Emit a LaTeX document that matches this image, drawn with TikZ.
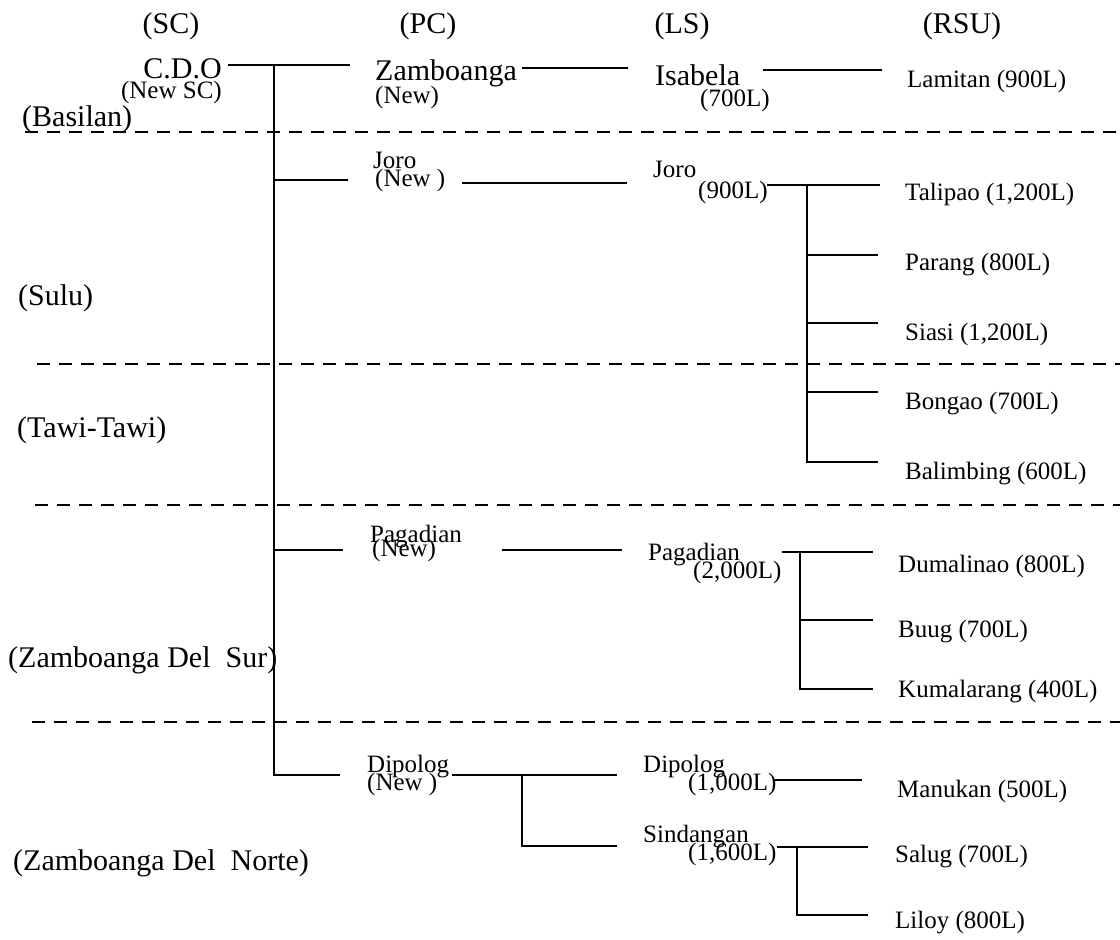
\documentclass[tikz,border=0pt]{standalone}
\usepackage{fontspec}
\setmainfont{Liberation Serif}
\tikzset{
  head/.style = {font=\fontsize{30}{30}\selectfont, inner sep=0pt, anchor=base},
  big/.style  = {font=\fontsize{30}{30}\selectfont, inner sep=0pt, anchor=base west},
  lbl/.style  = {font=\fontsize{25}{25}\selectfont, inner sep=0pt, anchor=base west},
  link/.style = {line width=2pt},
  zone/.style = {line width=1.4pt, dash pattern=on 13pt off 9pt}
}

\begin{document}
\begin{tikzpicture}[x=1pt, y=-1pt]
  \useasboundingbox (0,0) rectangle (1120,940);

  % ── column headings ───────────────────────────────────────────────────────
  \node[head] (hSC)  at (171,33) {(SC)};
  \node[head] (hPC)  at (428,33) {(PC)};
  \node[head] (hLS)  at (682,33) {(LS)};
  \node[head] (hRSU) at (962,33) {(RSU)};

  % ── province bands ────────────────────────────────────────────────────────
  \node[big] (basilan) at (22,126)  {(Basilan)};
  \node[big] (sulu)    at (18,305)  {(Sulu)};
  \node[big] (tawi)    at (17,437)  {(Tawi-Tawi)};
  \node[big] (zds)     at (8,667)   {(Zamboanga Del\ \ Sur)};
  \node[big] (zdn)     at (13,870)  {(Zamboanga Del\ \ Norte)};
  \foreach \y/\x in {132/25, 364/37, 505/35, 722/32}
    \draw[zone] (\x,\y) -- (1120,\y);

  % ── SC ────────────────────────────────────────────────────────────────────
  \node[big, anchor=base east] (cdo)   at (222,78) {C.D.O};
  \node[lbl, anchor=base east] (newSC) at (222,98) {(New SC)};

  % ── PC ────────────────────────────────────────────────────────────────────
  \node[big] (zam)     at (375,80)  {Zamboanga};
  \node[lbl] (zamNew)  at (375,103) {(New)};
  \node[lbl] (joroPC)  at (373,168) {Joro};
  \node[lbl] (joroNew) at (375,186) {(New )};
  \node[lbl] (pagPC)   at (370,542) {Pagadian};
  \node[lbl] (pagNew)  at (372,556) {(New)};
  \node[lbl] (dipPC)   at (367,772) {Dipolog};
  \node[lbl] (dipNew)  at (367,790) {(New )};

  % ── LS ────────────────────────────────────────────────────────────────────
  \node[big] (isa)     at (655,85)  {Isabela};
  \node[lbl] (isaCap)  at (700,106) {(700L)};
  \node[lbl] (joroLS)  at (653,177) {Joro};
  \node[lbl] (joroCap) at (698,198) {(900L)};
  \node[lbl] (pagLS)   at (648,560) {Pagadian};
  \node[lbl] (pagCap)  at (693,578) {(2,000L)};
  \node[lbl] (dipLS)   at (643,772) {Dipolog};
  \node[lbl] (dipCap)  at (688,790) {(1,000L)};
  \node[lbl] (sin)     at (643,842) {Sindangan};
  \node[lbl] (sinCap)  at (688,860) {(1,600L)};

  % ── RSU ───────────────────────────────────────────────────────────────────
  \node[lbl] (lamitan)    at (907,87)  {Lamitan (900L)};
  \node[lbl] (talipao)    at (905,200) {Talipao (1,200L)};
  \node[lbl] (parang)     at (905,270) {Parang (800L)};
  \node[lbl] (siasi)      at (905,340) {Siasi (1,200L)};
  \node[lbl] (bongao)     at (905,409) {Bongao (700L)};
  \node[lbl] (balimbing)  at (905,479) {Balimbing (600L)};
  \node[lbl] (dumalinao)  at (898,572) {Dumalinao (800L)};
  \node[lbl] (buug)       at (898,637) {Buug (700L)};
  \node[lbl] (kumalarang) at (898,697) {Kumalarang (400L)};
  \node[lbl] (manukan)    at (897,797) {Manukan (500L)};
  \node[lbl] (salug)      at (895,862) {Salug (700L)};
  \node[lbl] (liloy)      at (895,928) {Liloy (800L)};

  % ── line ends ─────────────────────────────────────────────────────────────
  \coordinate (cdoR)   at (228,65);
  \coordinate (trunk)  at (274,65);
  \coordinate (zamL)   at (350,65);
  \coordinate (joroL)  at (348,180);
  \coordinate (pagL)   at (343,550);
  \coordinate (dipL)   at (340,775);

  \coordinate (zamR)     at (522,68);
  \coordinate (isaL)     at (628,68);
  \coordinate (joroPCR)  at (462,183);
  \coordinate (joroLSL)  at (627,183);
  \coordinate (pagPCR)   at (502,550);
  \coordinate (pagLSL)   at (622,550);
  \coordinate (dipPCR)   at (452,775);
  \coordinate (dipBus)   at (522,775);
  \coordinate (dipLSL)   at (617,775);
  \coordinate (sinL)     at (617,846);

  \coordinate (isaR)     at (763,70);
  \coordinate (lamitanL) at (882,70);
  \coordinate (joroLSR)  at (767,185);
  \coordinate (joroBus)  at (807,185);
  \coordinate (talipaoL) at (880,185);
  \coordinate (parangL)  at (878,255);
  \coordinate (siasiL)   at (878,323);
  \coordinate (bongaoL)  at (878,392);
  \coordinate (balimbingL) at (878,462);
  \coordinate (pagLSR)   at (782,552);
  \coordinate (pagBus)   at (800,552);
  \coordinate (dumalinaoL)  at (873,552);
  \coordinate (buugL)       at (873,620);
  \coordinate (kumalarangL) at (873,689);
  \coordinate (dipLSR)   at (775,780);
  \coordinate (manukanL) at (862,780);
  \coordinate (sinR)     at (777,847);
  \coordinate (sinBus)   at (797,847);
  \coordinate (salugL)   at (868,847);
  \coordinate (liloyL)   at (868,915);

  % ── SC -> PC ──────────────────────────────────────────────────────────────
  \draw[link] (cdoR) -- (zamL);
  \draw[link] (trunk) |- (dipL);
  \draw[link] (trunk |- joroL) -- (joroL);
  \draw[link] (trunk |- pagL) -- (pagL);

  % ── PC -> LS ──────────────────────────────────────────────────────────────
  \draw[link] (zamR) -- (isaL);
  \draw[link] (joroPCR) -- (joroLSL);
  \draw[link] (pagPCR) -- (pagLSL);
  \draw[link] (dipPCR) -- (dipLSL);
  \draw[link] (dipBus) |- (sinL);

  % ── LS -> RSU ─────────────────────────────────────────────────────────────
  \draw[link] (isaR) -- (lamitanL);
  \draw[link] (joroLSR) -- (talipaoL);
  \draw[link] (joroBus) |- (balimbingL);
  \foreach \t in {parangL, siasiL, bongaoL}
    \draw[link] (joroBus |- \t) -- (\t);
  \draw[link] (pagLSR) -- (dumalinaoL);
  \draw[link] (pagBus) |- (kumalarangL);
  \draw[link] (pagBus |- buugL) -- (buugL);
  \draw[link] (dipLSR) -- (manukanL);
  \draw[link] (sinR) -- (salugL);
  \draw[link] (sinBus) |- (liloyL);

\end{tikzpicture}
\end{document}
